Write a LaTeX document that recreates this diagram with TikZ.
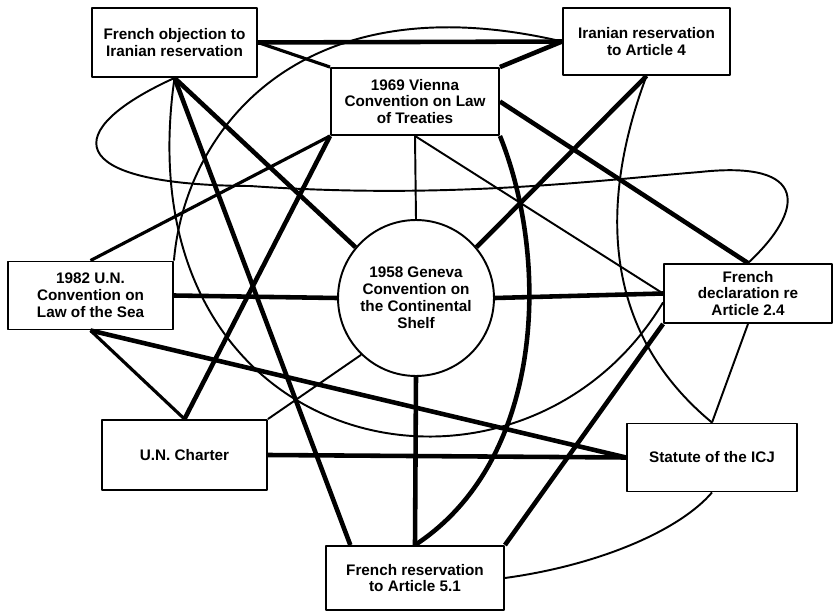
\documentclass[tikz,border=0pt]{standalone}
\usepackage{fontspec}
\setmainfont{Liberation Sans}
\begin{document}
\begin{tikzpicture}[x=0.02cm,y=-0.02cm,line join=round,
    box/.style={rectangle,draw,line width=1.1pt,inner sep=0pt,align=center,font=\bfseries\fontsize{8.7}{9.6}\selectfont},
    strong/.style={line width=2.6pt},
    medium/.style={line width=1.8pt},
    weak/.style={line width=1.1pt}]
    \useasboundingbox (0,0) rectangle (833,612);
    % documents
    \node[box,minimum width=3.3cm,minimum height=1.38cm] (FO) at (174.5,42.5) {French objection to\\Iranian reservation};
    \node[box,minimum width=3.34cm,minimum height=1.34cm] (IR) at (646.5,41.5) {Iranian reservation\\to Article 4};
    \node[box,minimum width=3.36cm,minimum height=1.34cm] (VC) at (415,101.5) {1969 Vienna\\Convention on Law\\of Treaties};
    \node[box,circle,minimum size=3.12cm] (GC) at (416,298) {1958 Geneva\\Convention on\\the Continental\\Shelf};
    \node[box,minimum width=3.3cm,minimum height=1.36cm] (LS) at (90.5,295.5) {1982 U.N.\\Convention on\\Law of the Sea};
    \node[box,minimum width=3.36cm,minimum height=1.18cm] (FD) at (748,293.5) {French\\declaration re\\Article 2.4};
    \node[box,minimum width=3.3cm,minimum height=1.4cm] (UC) at (184.5,455) {U.N. Charter};
    \node[box,minimum width=3.4cm,minimum height=1.36cm] (ICJ) at (712,457.5) {Statute of the ICJ};
    \node[box,minimum width=3.56cm,minimum height=1.28cm] (FR) at (415,578) {French reservation\\to Article 5.1};
    % strong links
    \draw[strong] (FO.east) -- (IR.west);
    \draw[strong] (FO.south) -- (GC.140);
    \draw[strong] (FO.south) -- (FR.153);
    \draw[strong] (VC.south west) -- (UC.north);
    \draw[strong] (VC.north east) -- (IR.west);
    \draw[strong] (VC.east) -- (FD.north);
    \draw[strong] (GC.40) -- (IR.south);
    \draw[strong] (GC.west) -- (LS.east);
    \draw[strong] (GC.east) -- (FD.west);
    \draw[strong] (GC.south) -- (FR.north);
    \draw[strong] (VC.south east) .. controls (550,260) and (545,460) .. (FR.north);
    \draw[strong] (FD.south west) -- (FR.north east);
    \draw[strong] (LS.south) -- (ICJ.west);
    \draw[strong] (UC.east) -- (ICJ.west);
    % medium links
    \draw[medium] (FO.east) -- (VC.north west);
    \draw[medium] (VC.south west) -- (LS.north);
    \draw[medium] (LS.south) -- (UC.north);
    % weak links
    \draw[weak] (VC.south) -- (GC.north);
    \draw[weak] (VC.south) -- (FD.west);
    \draw[weak] (GC.226) -- (UC.north east);
    \draw[weak] (FD.south) -- (ICJ.north);
    \draw[weak] (FO.south) .. controls (60,130) and (60,185) .. (250,186)
        .. controls (450,200) and (600,180) .. (700,172)
        .. controls (810,160) and (805,210) .. (FD.north);
    \draw[weak] (FO.south) .. controls (120,460) and (520,540) .. (FD.186);
    \draw[weak] (LS.north east) .. controls (185,130) and (300,-20) .. (IR.west);
    \draw[weak] (IR.south) .. controls (600,200) and (600,330) .. (ICJ.north);
    \draw[weak] (FR.east) .. controls (600,565) and (680,530) .. (ICJ.south);
\end{tikzpicture}
\end{document}
